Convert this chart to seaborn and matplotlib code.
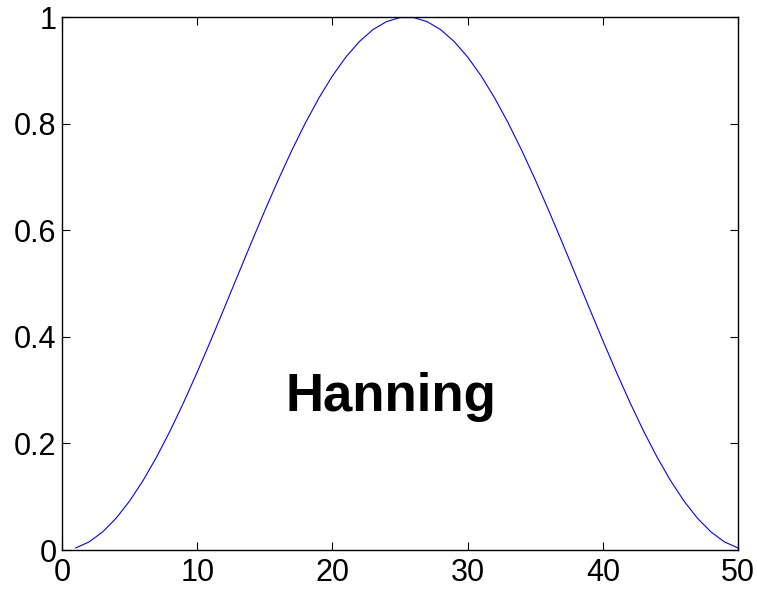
import matplotlib
matplotlib.use("Agg")
import matplotlib.pyplot as plt
import seaborn as sns
import pandas as pd

# Sample index (1..50) and Hanning window values
sample_index = list(range(1, 51))
window_values = [
    0.0038, 0.0151, 0.0338, 0.0595, 0.0919, 0.1305, 0.1747, 0.2238, 0.2771, 0.3338,
    0.3930, 0.4539, 0.5154, 0.5767, 0.6368, 0.6949, 0.7500, 0.8013, 0.8481, 0.8896,
    0.9251, 0.9542, 0.9765, 0.9915, 0.9991, 0.9991, 0.9915, 0.9765, 0.9542, 0.9251,
    0.8896, 0.8481, 0.8013, 0.7500, 0.6949, 0.6368, 0.5767, 0.5154, 0.4539, 0.3930,
    0.3338, 0.2771, 0.2238, 0.1747, 0.1305, 0.0919, 0.0595, 0.0338, 0.0151, 0.0038,
]
x_ticks = [0, 10, 20, 30, 40, 50]
y_ticks = [0, 0.2, 0.4, 0.6, 0.8, 1]
y_tick_labels = ["0", "0.2", "0.4", "0.6", "0.8", "1"]
label_text = "Hanning"

sns.set_style("ticks")
plt.rcParams["font.family"] = ["Liberation Sans", "DejaVu Sans"]

df = pd.DataFrame({"n": sample_index, "w": window_values})

fig = plt.figure(figsize=(7.57, 5.89), dpi=100)
ax = fig.add_axes([0.0819, 0.0662, 0.975 - 0.0819, 0.971 - 0.0662])

sns.lineplot(data=df, x="n", y="w", ax=ax, color="#0000ff", linewidth=0.8)

ax.set_xlim(0, 50)
ax.set_ylim(0, 1)
ax.set_xticks(x_ticks)
ax.set_xticklabels([str(t) for t in x_ticks])
ax.set_yticks(y_ticks)
ax.set_yticklabels(y_tick_labels)
ax.set_xlabel("")
ax.set_ylabel("")

for s in ax.spines.values():
    s.set_visible(True)
    s.set_color("black")
    s.set_linewidth(1.0)

ax.tick_params(axis="both", which="both", direction="in", length=6, width=0.8,
               top=True, right=True, labelsize=22, colors="black")
ax.tick_params(axis="x", pad=6)
ax.tick_params(axis="y", pad=4)

ax.text(24.3, 0.26, label_text, fontsize=38, fontweight="bold",
        ha="center", va="baseline", color="black")

fig.savefig("out.png", dpi=100, facecolor="white")
